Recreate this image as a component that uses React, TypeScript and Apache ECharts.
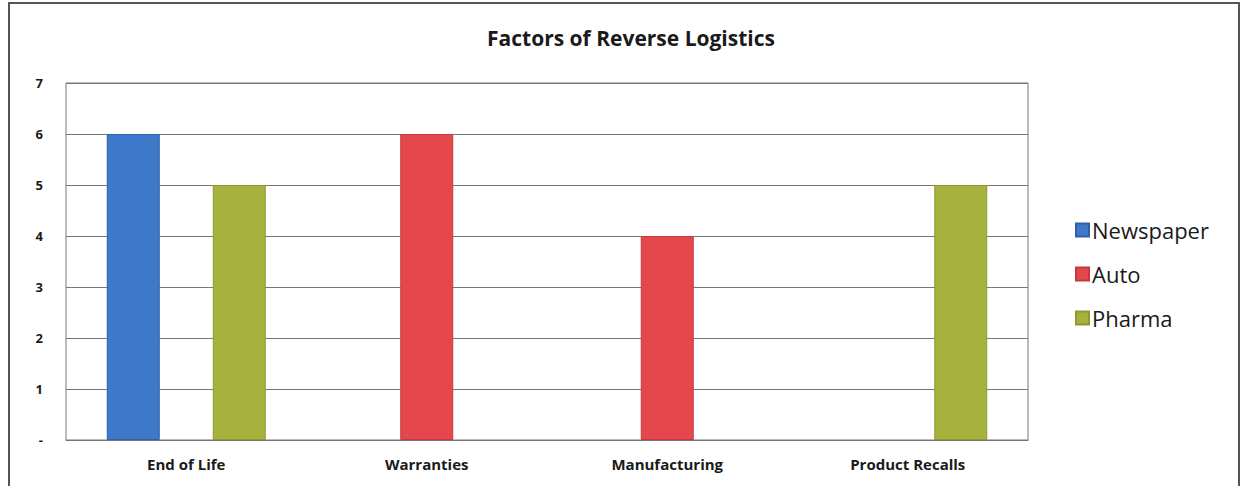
import React, { useEffect, useRef } from "react";
import * as echarts from "echarts";

const categories = ["End of Life", "Warranties", "Manufacturing", "Product Recalls"];
const newspaper = [6, null, null, null];
const auto = [null, 6, 4, null];
const pharma = [5, null, null, 5];
const yTicks = ["-", "1", "2", "3", "4", "5", "6", "7"];

export default function App() {
  const ref = useRef<HTMLDivElement>(null);
  useEffect(() => {
    if (!ref.current) return;
    const chart = echarts.init(ref.current, null, { renderer: "svg" });
    const font = "'Open Sans', Lato, sans-serif";
    const mk = (name: string, data: (number | null)[], color: string, border: string) => ({
      name,
      type: "bar",
      data,
      barWidth: 53,
      barGap: "0%",
      itemStyle: { color, borderColor: border, borderWidth: 1 },
    });
    chart.setOption({
      animation: false,
      backgroundColor: "#ffffff",
      title: {
        text: "Factors of Reverse Logistics",
        left: 626,
        top: 22,
        textAlign: "center",
        textStyle: { fontFamily: font, fontSize: 21, fontWeight: "bold", color: "#1a1a1a" },
      },
      legend: {
        orient: "vertical",
        left: 1070,
        top: 214,
        itemWidth: 13,
        itemHeight: 13,
        itemGap: 22,
        icon: "rect",
        textStyle: { fontFamily: font, fontSize: 22, color: "#1a1a1a", padding: [0, 0, 0, -2] },
        data: ["Newspaper", "Auto", "Pharma"],
      },
      grid: { left: 66, right: 214, top: 83, height: 357, containLabel: false, show: true, borderColor: "#777", borderWidth: 1 },
      xAxis: {
        type: "category",
        data: categories,
        axisLine: { show: true, lineStyle: { color: "#777" } },
        axisTick: { show: false },
        axisLabel: { fontFamily: font, fontSize: 15, fontWeight: "bold", color: "#1a1a1a", margin: 16 },
      },
      yAxis: {
        type: "value",
        min: 0,
        max: 7,
        interval: 1,
        axisLine: { show: false },
        axisTick: { show: false },
        splitLine: { lineStyle: { color: "#777", width: 1 } },
        axisLabel: {
          fontFamily: font,
          fontSize: 13,
          fontWeight: "bold",
          color: "#1a1a1a",
          margin: 23,
          formatter: (v: number) => yTicks[Math.round(v)] ?? String(v),
        },
      },
      graphic: [
        {
          type: "rect",
          shape: { x: 9, y: 3, width: 1230, height: 520 },
          style: { fill: "none", stroke: "#555", lineWidth: 2 },
          silent: true,
        },
      ],
      series: [
        mk("Newspaper", newspaper, "#3e78c9", "#2f5fa8"),
        mk("Auto", auto, "#e4484c", "#c53a3e"),
        mk("Pharma", pharma, "#a7b13d", "#8e9830"),
      ],
    });
    return () => chart.dispose();
  }, []);
  return (
    <div
      ref={ref}
      style={{ position: "fixed", left: 0, top: 0, width: 1242, height: 486 }}
    />
  );
}
